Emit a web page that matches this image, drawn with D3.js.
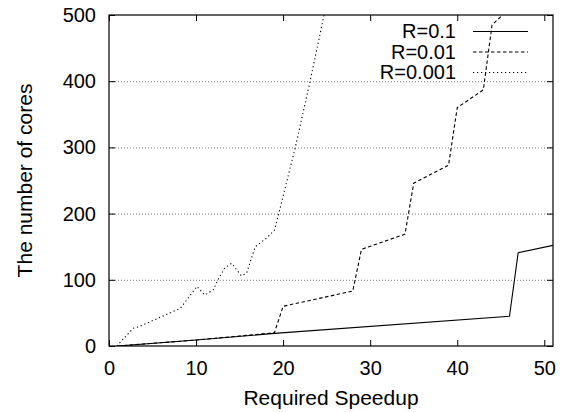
<!DOCTYPE html>
<html>
<head>
<meta charset="utf-8">
<script src="https://cdn.jsdelivr.net/npm/d3@7"></script>
<style>
  body { margin: 0; background: #fff; }
  text { font-family: "Liberation Sans", Arial, sans-serif; fill: #000; }
</style>
</head>
<body>
<div id="chart-holder"></div>
<script>
// data
var seriesNames = ['R=0.1', 'R=0.01', 'R=0.001'];
var speedupR1 = [1, 10, 19, 46, 47, 51];
var coresR1 = [0, 9, 19, 45, 141, 152];
var speedupR2 = [1, 10, 19, 20, 28, 29, 34, 35, 39, 40, 43, 44, 45.2];
var coresR2 = [0, 9, 20, 60, 83, 146, 169, 246, 273, 360, 387, 485, 500];
var speedupR3 = [0.9, 2.8, 3.4, 8.2, 10.1, 11.0, 12.0, 12.5, 13.3, 14.1, 15.2, 15.8, 16.8, 18.1, 19.0, 19.5, 21.4, 23.1, 24.7];
var coresR3 = [0, 27, 29, 57, 90, 77, 85, 100, 118, 125, 106, 110, 150, 163, 175, 200, 300, 400, 500];
var xTicks = [0, 10, 20, 30, 40, 50];
var yTicks = [0, 100, 200, 300, 400, 500];

function buildChart(containerId) {
    var width = 565;
    var height = 412;
    var margin = { top: 15, right: 12, bottom: 66, left: 109 };
    var innerWidth = width - margin.left - margin.right;
    var innerHeight = height - margin.top - margin.bottom;

    var svg = d3.select(containerId)
        .append('svg')
        .attr('width', width)
        .attr('height', height);

    var g = svg.append('g')
        .attr('transform', 'translate(' + margin.left + ',' + margin.top + ')');

    var x = d3.scaleLinear().domain([0, 51]).range([0, innerWidth]);
    var y = d3.scaleLinear().domain([0, 500]).range([innerHeight, 0]);

    svg.append('defs').append('clipPath').attr('id', 'plot-clip')
        .append('rect').attr('width', innerWidth).attr('height', innerHeight);

    // grid lines
    g.selectAll('.grid')
        .data(yTicks.filter(function(d) { return d > 0 && d < 500; }))
        .enter()
        .append('line')
        .attr('class', 'grid')
        .attr('x1', 0)
        .attr('x2', innerWidth)
        .attr('y1', function(d) { return y(d) + 0.5; })
        .attr('y2', function(d) { return y(d) + 0.5; })
        .attr('stroke', '#777')
        .attr('stroke-width', 1)
        .attr('stroke-dasharray', '1,2');

    // axes (ticks pointing inward, mirrored)
    var fontSize = '20px';
    var xAxis = g.append('g')
        .attr('transform', 'translate(0,' + innerHeight + ')')
        .call(d3.axisBottom(x).tickValues(xTicks).tickSize(-6).tickPadding(15));
    var xTop = g.append('g')
        .call(d3.axisTop(x).tickValues(xTicks).tickSize(-6).tickFormat(''));
    var yAxis = g.append('g')
        .call(d3.axisLeft(y).tickValues(yTicks).tickSize(-6).tickPadding(13));
    var yRight = g.append('g')
        .attr('transform', 'translate(' + innerWidth + ',0)')
        .call(d3.axisRight(y).tickValues(yTicks).tickSize(-6).tickFormat(''));

    [xAxis, xTop, yAxis, yRight].forEach(function(a) {
        a.select('.domain').remove();
        a.selectAll('line').attr('stroke', '#000');
        a.selectAll('text')
            .style('font-family', '"Liberation Sans", Arial, sans-serif')
            .style('font-size', fontSize);
    });

    // frame
    g.append('rect')
        .attr('x', 0)
        .attr('y', 0)
        .attr('width', innerWidth)
        .attr('height', innerHeight)
        .attr('fill', 'none')
        .attr('stroke', '#000')
        .attr('stroke-width', 1.2);

    // lines
    var series = [
        { name: seriesNames[0], xs: speedupR1, ys: coresR1, dash: null },
        { name: seriesNames[1], xs: speedupR2, ys: coresR2, dash: '3.5,2.5' },
        { name: seriesNames[2], xs: speedupR3, ys: coresR3, dash: '1.2,2.8' }
    ];

    var line = d3.line()
        .x(function(d) { return x(d[0]); })
        .y(function(d) { return y(d[1]); });

    g.append('g')
        .attr('clip-path', 'url(#plot-clip)')
        .selectAll('.series')
        .data(series)
        .enter()
        .append('path')
        .attr('class', 'series')
        .attr('d', function(s) {
            return line(s.xs.map(function(v, i) { return [v, s.ys[i]]; }));
        })
        .attr('fill', 'none')
        .attr('stroke', '#000')
        .attr('stroke-width', 1.1)
        .attr('stroke-dasharray', function(s) { return s.dash; });

    // legend
    var legend = g.selectAll('.legend')
        .data(series)
        .enter()
        .append('g')
        .attr('class', 'legend')
        .attr('transform', function(s, i) {
            return 'translate(0,' + (16 + i * 20.5) + ')';
        });

    legend.append('text')
        .attr('x', 347)
        .attr('y', 0)
        .attr('dy', '0.35em')
        .attr('text-anchor', 'end')
        .style('font-size', fontSize)
        .text(function(s) { return s.name; });

    legend.append('line')
        .attr('x1', 364)
        .attr('x2', 419)
        .attr('y1', 0.5)
        .attr('y2', 0.5)
        .attr('stroke', '#000')
        .attr('stroke-width', 1.1)
        .attr('stroke-dasharray', function(s) { return s.dash; });

    // axis labels
    g.append('text')
        .attr('x', innerWidth / 2)
        .attr('y', innerHeight + 59)
        .attr('text-anchor', 'middle')
        .style('font-size', '21px')
        .text('Required Speedup');

    g.append('text')
        .attr('transform', 'translate(' + (-77.5) + ',' + (innerHeight / 2) + ') rotate(-90)')
        .attr('text-anchor', 'middle')
        .style('font-size', '21px')
        .text('The number of cores');
}

buildChart('#chart-holder');
</script>
</body>
</html>
